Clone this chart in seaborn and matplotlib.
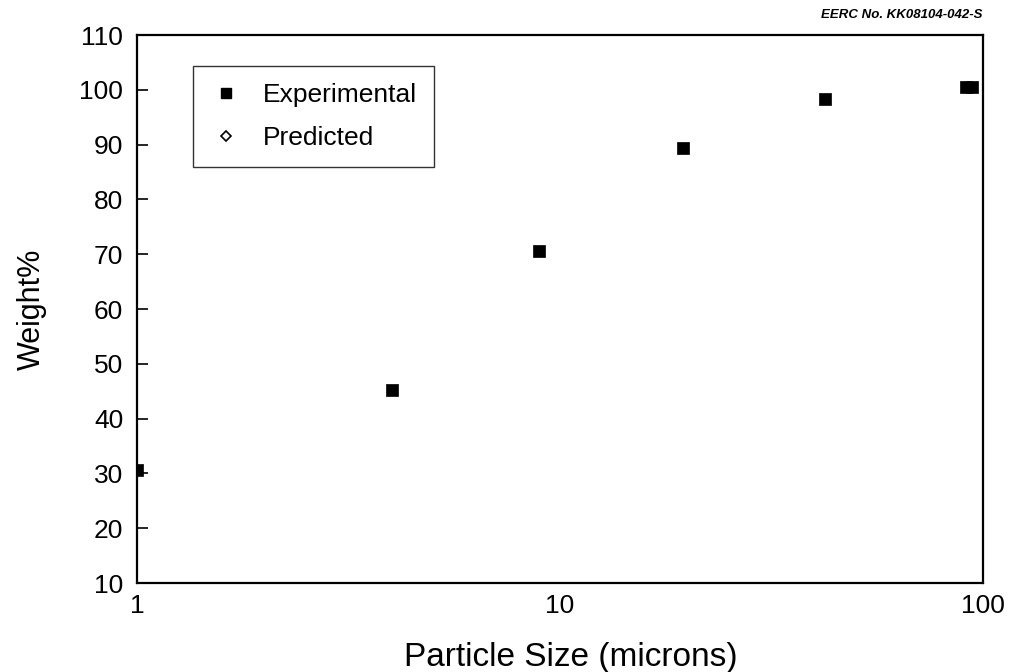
import matplotlib
matplotlib.use("Agg")
import matplotlib.pyplot as plt
from matplotlib.lines import Line2D
import seaborn as sns
import pandas as pd

# Data
particle_size = [1.0, 4.0, 8.9, 19.5, 42.4, 91.0, 94.0]
weight_pct = [30.6, 45.2, 70.6, 89.4, 98.3, 100.5, 100.5]
y_ticks = [10, 20, 30, 40, 50, 60, 70, 80, 90, 100, 110]
x_ticks = [1, 10, 100]
x_tick_labels = ["1", "10", "100"]
legend_labels = ["Experimental", "Predicted"]

sns.set_theme(style="white")
plt.rcParams['font.family'] = ['Liberation Sans', 'DejaVu Sans']
plt.rcParams['text.color'] = 'black'

df = pd.DataFrame({"size": particle_size, "weight": weight_pct})

fig = plt.figure(figsize=(10.12, 6.72), dpi=100)
ax = fig.add_axes([0.1354, 0.1324, 0.8359, 0.8155])

sns.scatterplot(data=df, x="size", y="weight", marker="s", color="black",
                s=72, edgecolor="black", linewidth=0.5, ax=ax, legend=False)

ax.set_xscale("log")
ax.set_xlim(1, 100)
ax.set_ylim(10, 110)
ax.set_xticks(x_ticks)
ax.set_xticklabels(x_tick_labels)
ax.minorticks_off()
ax.set_yticks(y_ticks)
ax.tick_params(axis="y", direction="in", length=8, width=1.2, labelsize=19,
               pad=10, left=True, colors="black")
ax.tick_params(axis="x", length=0, labelsize=19, pad=8, colors="black")
for sp in ax.spines.values():
    sp.set_visible(True)
    sp.set_color("black")
    sp.set_linewidth(1.6)

ax.set_xlabel("Particle Size (microns)", fontsize=24, color="black", va="center")
ax.xaxis.set_label_coords(0.513, -0.135)
ax.set_ylabel("Weight%", fontsize=22, color="black", va="center")
ax.yaxis.set_label_coords(-0.124, 0.5)

handles = [
    Line2D([], [], marker="s", color="black", linestyle="None", markersize=7.5),
    Line2D([], [], marker="D", markerfacecolor="white", markeredgecolor="black",
           color="black", linestyle="None", markersize=5.5, markeredgewidth=1.2),
]
leg = ax.legend(handles, legend_labels, loc="upper left",
                bbox_to_anchor=(0.066, 0.943), borderaxespad=0, fontsize=19,
                frameon=True, fancybox=False, edgecolor="black",
                handletextpad=0.8, borderpad=0.65, labelspacing=0.7,
                handlelength=1.2)
leg.get_frame().set_linewidth(1.0)
for t in leg.get_texts():
    t.set_color("black")

fig.text(0.971, 0.978, "EERC No. KK08104-042-S", ha="right", va="center",
         fontsize=9.5, style="italic", fontweight="bold", color="black")

fig.savefig("out.png", dpi=100)
